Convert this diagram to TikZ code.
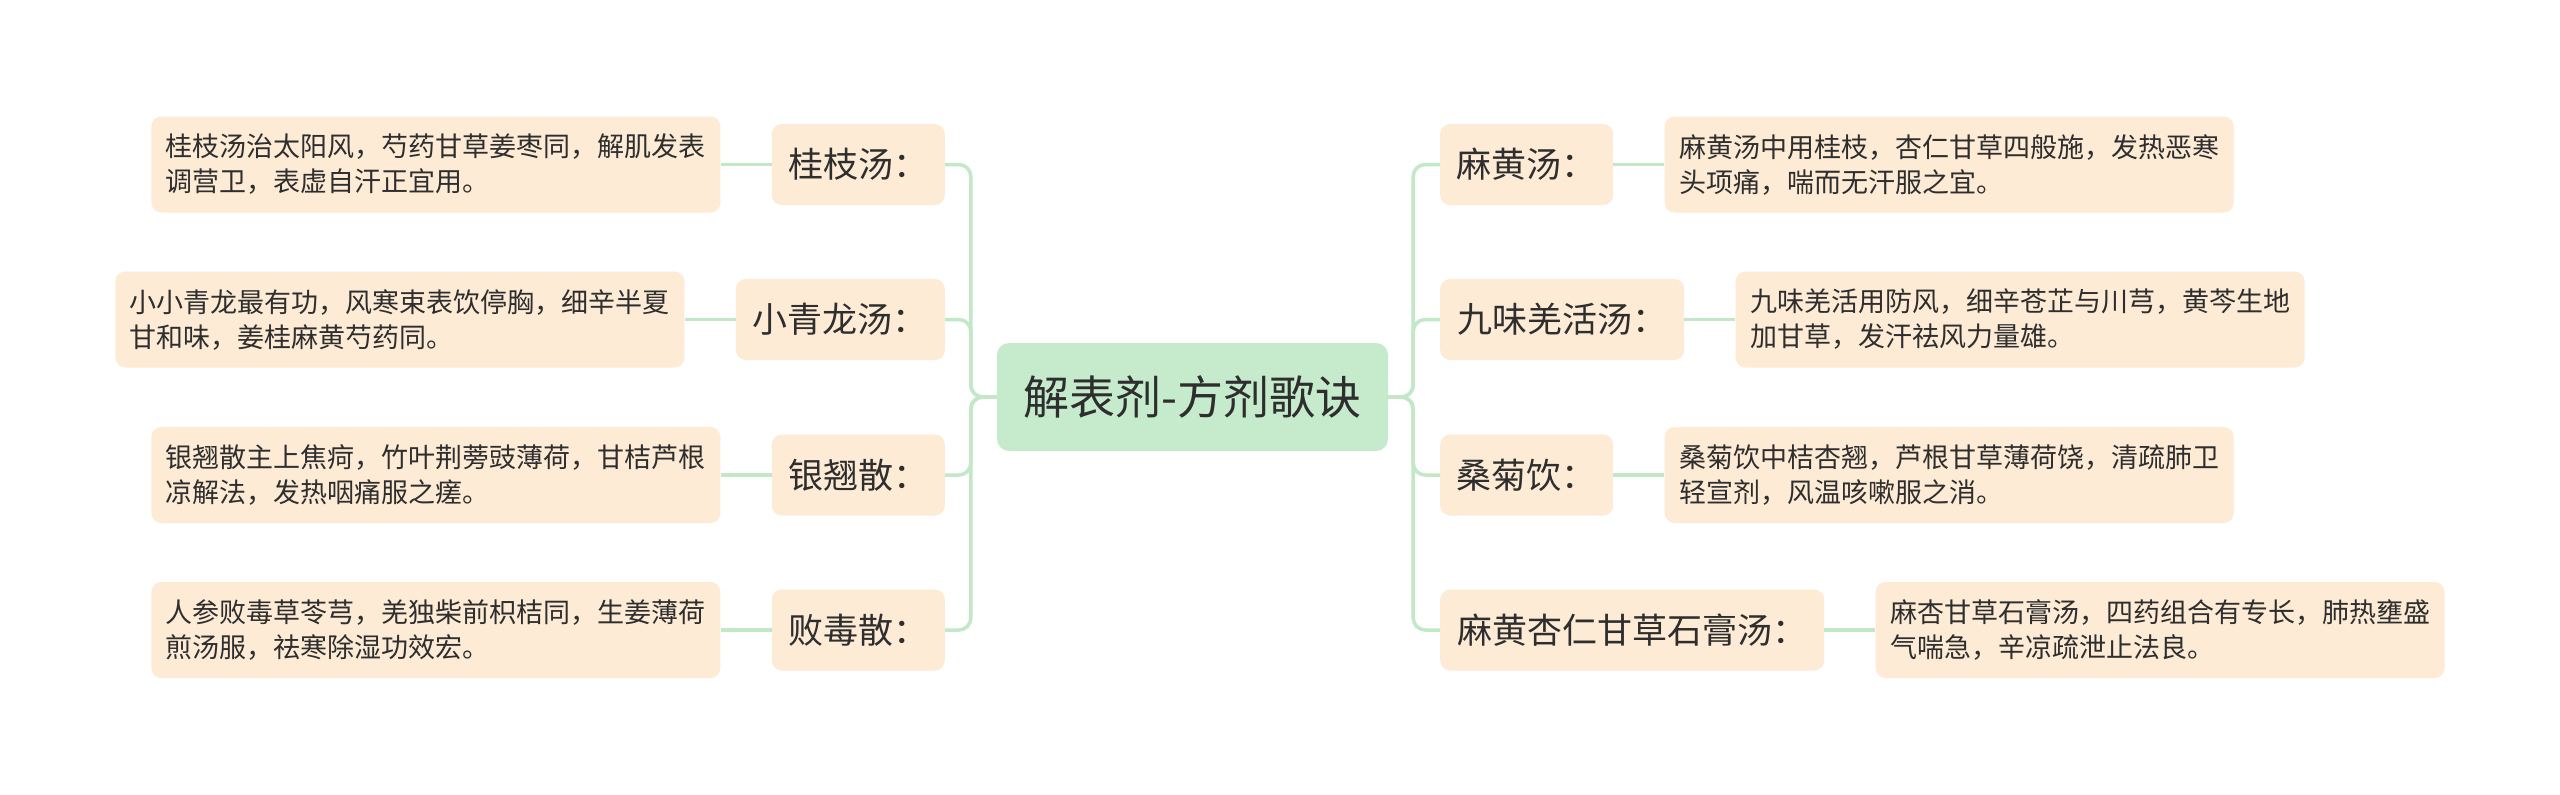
\documentclass[tikz,border=0pt]{standalone}
\usepackage{fontspec}
\setmainfont{Noto Sans CJK SC}
\definecolor{cgreen}{HTML}{C5EACC}
\definecolor{cpeach}{HTML}{FDEBD6}
\definecolor{cline}{HTML}{C3E8C8}
\definecolor{ctext}{HTML}{2E2E2E}
\begin{document}
\begin{tikzpicture}[x=1pt,y=-1pt,
  root/.style={fill=cgreen, rounded corners=12pt, minimum width=391pt, minimum height=108pt, inner sep=0pt, font=\fontsize{46}{55}\selectfont, text=ctext},
  topic/.style={fill=cpeach, rounded corners=10pt, minimum height=81pt, inner sep=0pt, font=\fontsize{35}{42}\selectfont, text=ctext},
  leaf/.style={fill=cpeach, rounded corners=10pt, minimum width=569pt, minimum height=96pt, inner sep=0pt, align=left, font=\fontsize{27}{35}\selectfont, text=ctext},
  conn/.style={draw=cline, line width=3.5pt, rounded corners=12pt}]
\fill[white] (0,0) rectangle (2560,795);
\useasboundingbox (0,0) rectangle (2560,795);

\node[root] (c) at (1192.5,397) {解表剂-方剂歌诀};

% left topics
\node[topic, minimum width=173pt, anchor=east] (k1) at (945,164.5) {桂枝汤：};
\node[topic, minimum width=209pt, anchor=east] (k2) at (945,319.5) {小青龙汤：};
\node[topic, minimum width=173pt, anchor=east] (k3) at (945,475) {银翘散：};
\node[topic, minimum width=173pt, anchor=east] (k4) at (945,630) {败毒散：};

% right topics
\node[topic, minimum width=173pt, anchor=west] (r1) at (1440,164.5) {麻黄汤：};
\node[topic, minimum width=244pt, anchor=west] (r2) at (1440,319.5) {九味羌活汤：};
\node[topic, minimum width=173pt, anchor=west] (r3) at (1440,475) {桑菊饮：};
\node[topic, minimum width=384pt, anchor=west] (r4) at (1440,630) {麻黄杏仁甘草石膏汤：};

% left leaves
\node[leaf, anchor=east] (l1) at ([xshift=-51pt]k1.west) {桂枝汤治太阳风，芍药甘草姜枣同，解肌发表\\调营卫，表虚自汗正宜用。};
\node[leaf, anchor=east] (l2) at ([xshift=-51pt]k2.west) {小小青龙最有功，风寒束表饮停胸，细辛半夏\\甘和味，姜桂麻黄芍药同。};
\node[leaf, anchor=east] (l3) at ([xshift=-51pt]k3.west) {银翘散主上焦疴，竹叶荆蒡豉薄荷，甘桔芦根\\凉解法，发热咽痛服之瘥。};
\node[leaf, anchor=east] (l4) at ([xshift=-51pt]k4.west) {人参败毒草苓芎，羌独柴前枳桔同，生姜薄荷\\煎汤服，祛寒除湿功效宏。};

% right leaves
\node[leaf, anchor=west] (m1) at ([xshift=51pt]r1.east) {麻黄汤中用桂枝，杏仁甘草四般施，发热恶寒\\头项痛，喘而无汗服之宜。};
\node[leaf, anchor=west] (m2) at ([xshift=51pt]r2.east) {九味羌活用防风，细辛苍芷与川芎，黄芩生地\\加甘草，发汗祛风力量雄。};
\node[leaf, anchor=west] (m3) at ([xshift=51pt]r3.east) {桑菊饮中桔杏翘，芦根甘草薄荷饶，清疏肺卫\\轻宣剂，风温咳嗽服之消。};
\node[leaf, anchor=west] (m4) at ([xshift=51pt]r4.east) {麻杏甘草石膏汤，四药组合有专长，肺热壅盛\\气喘急，辛凉疏泄止法良。};

% connectors center -> topics
\foreach \k in {k1,k2,k3,k4}
  \draw[conn] (c.west) -- ++(-26,0) |- (\k.east);
\foreach \r in {r1,r2,r3,r4}
  \draw[conn] (c.east) -- ++(25,0) |- (\r.west);

% topics -> leaves
\draw[conn] (k1.west) -- (l1.east);
\draw[conn] (k2.west) -- (l2.east);
\draw[conn] (k3.west) -- (l3.east);
\draw[conn] (k4.west) -- (l4.east);
\draw[conn] (r1.east) -- (m1.west);
\draw[conn] (r2.east) -- (m2.west);
\draw[conn] (r3.east) -- (m3.west);
\draw[conn] (r4.east) -- (m4.west);
\end{tikzpicture}
\end{document}
